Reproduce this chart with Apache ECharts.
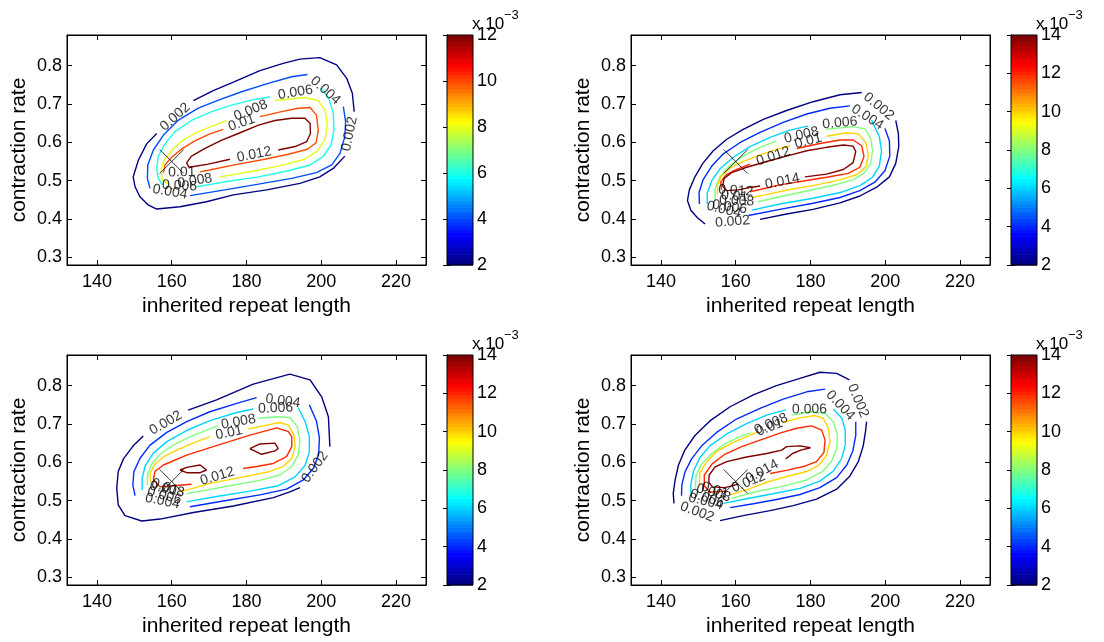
<!DOCTYPE html>
<html>
<head>
<meta charset="utf-8">
<script src="https://cdn.jsdelivr.net/npm/echarts@6/dist/echarts.min.js"></script>
<style>
html,body{margin:0;padding:0;background:#fff;}
#chart{width:1104px;height:642px;}
</style>
</head>
<body>
<div id="chart"></div>
<script>
// ---- axes ----
const xRange = [132, 228];
const yRange = [0.28, 0.88];
const xTicks = [140, 160, 180, 200, 220];
const yTicks = [0.3, 0.4, 0.5, 0.6, 0.7, 0.8];
const cbarMin = 2;
const cbarMax = [12, 14, 14, 14];
const markerPoint = [160, 0.55];

// contour levels per panel
const levels1 = [0.002, 0.004, 0.006, 0.008, 0.01, 0.012];
const levels2 = [0.002, 0.004, 0.006, 0.008, 0.01, 0.012, 0.014];
const levels3 = [0.002, 0.004, 0.006, 0.008, 0.01, 0.012, 0.014];
const levels4 = [0.002, 0.004, 0.006, 0.008, 0.01, 0.012, 0.014];

// ---- panel 1 contours: [repeat length, contraction rate], segments split at label gaps ----
const p1_c002 = [
  [[165.8,0.709],[171.1,0.735],[176.5,0.757],[183.6,0.787],[189.8,0.806],[194.3,0.817],[199.6,0.821],[204.1,0.802],[206.8,0.767],[208.3,0.728],[208.8,0.680]],
  [[206.3,0.564],[203.2,0.532],[199.6,0.510],[194.3,0.493],[185.4,0.476],[176.5,0.463],[169.3,0.445],[162.2,0.432],[156.0,0.426],[153.8,0.436],[151.5,0.458],[150.2,0.484],[149.7,0.510],[151.1,0.554],[153.3,0.596],[156.0,0.623]]
];
const p1_c004 = [
  [[196.3,0.777],[192.1,0.771],[185.8,0.754],[178.7,0.732],[172.5,0.710],[167.1,0.689],[161.8,0.658],[157.8,0.619],[155.1,0.580],[153.6,0.541],[153.5,0.506],[154.2,0.480]],
  [[164.9,0.461],[174.2,0.476],[183.2,0.491],[192.1,0.506],[198.7,0.521],[202.8,0.541],[205.0,0.571],[206.3,0.615],[206.5,0.654],[205.9,0.693]]
];
const p1_c006 = [
  [[186.3,0.719],[181.4,0.710],[176.0,0.697],[170.7,0.680],[165.3,0.657],[160.9,0.628],[158.2,0.596],[156.4,0.563],[156.0,0.532],[156.4,0.506],[157.5,0.489]],
  [[166.7,0.484],[174.2,0.497],[183.2,0.510],[191.2,0.526],[197.0,0.541],[200.5,0.563],[202.6,0.593],[203.4,0.632],[203.2,0.676],[202.0,0.715],[199.9,0.741]]
];
const p1_c008 = [
  [[187.6,0.709],[195.6,0.717],[199.2,0.709],[201.0,0.683],[201.6,0.645],[201.0,0.608],[199.0,0.577],[195.5,0.556],[189.4,0.540],[181.4,0.524],[172.9,0.510]],
  [[159.5,0.489],[157.5,0.502],[157.1,0.528],[158.0,0.554],[160.0,0.580],[163.1,0.606],[167.1,0.628],[171.6,0.645],[174.7,0.657]]
];
const p1_c010 = [
  [[183.6,0.667],[189.4,0.680],[193.8,0.689],[197.0,0.691],[198.7,0.671],[199.2,0.632],[198.6,0.599],[196.3,0.582],[191.2,0.569],[184.9,0.556],[177.8,0.543],[170.7,0.529],[167.6,0.523]],
  [[157.8,0.521],[158.2,0.541],[160.0,0.561],[162.7,0.583],[166.2,0.604],[170.2,0.622],[173.8,0.634]]
];
const p1_c012 = [
  [[188.5,0.580],[193.0,0.589],[196.1,0.602],[197.1,0.623],[197.0,0.650],[195.6,0.663],[192.1,0.663],[187.6,0.657],[183.2,0.645],[177.8,0.623],[173.4,0.606],[168.9,0.584],[165.3,0.564],[164.0,0.547],[164.6,0.535],[169.8,0.543],[175.6,0.556]]
];

// ---- panel 2 contours ----
const p2_c002 = [
  [[193.7,0.730],[187.9,0.724],[180.7,0.706],[173.6,0.683],[167.4,0.660],[162.0,0.634],[157.6,0.608],[154.0,0.578],[151.2,0.545],[149.1,0.510],[147.6,0.476],[147.1,0.448],[148.0,0.423],[149.7,0.404],[151.8,0.387]],
  [[166.5,0.399],[173.6,0.413],[180.7,0.425],[187.9,0.442],[193.2,0.460],[197.7,0.483],[201.1,0.510],[202.8,0.545],[203.6,0.589],[203.5,0.623],[202.8,0.657]]
];
const p2_c004 = [
  [[190.5,0.695],[185.2,0.689],[179.0,0.674],[172.7,0.652],[166.5,0.626],[161.1,0.599],[156.7,0.570],[153.6,0.538],[151.3,0.503],[150.2,0.469],[150.3,0.439]],
  [[163.4,0.409],[171.8,0.425],[180.7,0.441],[187.9,0.456],[193.2,0.474],[197.2,0.496],[199.9,0.526],[201.2,0.564],[201.1,0.604],[199.9,0.636]]
];
const p2_c006 = [
  [[179.4,0.643],[174.5,0.632],[169.2,0.613],[163.8,0.589],[159.4,0.561],[155.8,0.531],[153.6,0.500],[152.4,0.467],[152.4,0.439]],
  [[164.3,0.423],[171.8,0.439],[180.7,0.454],[187.9,0.469],[193.2,0.487],[196.6,0.509],[198.4,0.538],[199.0,0.578],[198.4,0.615],[196.3,0.658]]
];
const p2_c008 = [
  [[184.3,0.634],[191.4,0.641],[194.6,0.635],[196.1,0.610],[196.6,0.578],[196.1,0.545],[194.3,0.519],[191.3,0.502],[186.1,0.488],[179.0,0.473],[171.8,0.458],[166.0,0.445]],
  [[154.5,0.449],[154.5,0.480],[155.8,0.510],[158.3,0.538],[161.9,0.564],[166.3,0.586],[170.9,0.603]]
];
const p2_c010 = [
  [[184.3,0.616],[189.7,0.625],[192.8,0.622],[194.8,0.599],[195.5,0.567],[194.8,0.536],[192.5,0.516],[187.9,0.502],[181.6,0.489],[174.5,0.477],[167.8,0.463],[164.3,0.456]],
  [[155.1,0.463],[155.1,0.489],[156.2,0.513],[158.6,0.534],[162.2,0.551],[166.7,0.568],[171.4,0.583],[174.5,0.591]]
];
const p2_c012 = [
  [[176.3,0.584],[182.5,0.597],[187.9,0.606],[191.4,0.606],[193.7,0.591],[194.3,0.563],[193.2,0.535],[190.1,0.519],[184.3,0.509],[178.1,0.499],[171.8,0.489],[166.5,0.477],[163.8,0.471]],
  [[156.2,0.476],[156.0,0.497],[157.4,0.515],[160.1,0.529],[163.8,0.543]]
];
const p2_c014 = [
  [[178.5,0.510],[184.3,0.517],[188.8,0.529],[191.4,0.547],[192.1,0.576],[191.4,0.590],[188.8,0.593],[184.3,0.587],[179.0,0.578],[173.6,0.564],[168.3,0.550],[162.9,0.535],[158.9,0.521],[156.9,0.506],[156.5,0.486],[157.6,0.474],[160.7,0.476],[164.3,0.483],[166.5,0.486]]
];

// ---- panel 3 contours ----
const p3_c002 = [
  [[164.4,0.736],[172.0,0.763],[181.8,0.804],[191.6,0.830],[197.0,0.815],[200.1,0.771],[201.9,0.719],[202.3,0.641]],
  [[194.3,0.534],[191.6,0.523],[187.2,0.508],[176.5,0.486],[165.8,0.469],[156.9,0.452],[152.0,0.447],[147.5,0.461],[145.7,0.489],[145.3,0.532],[145.7,0.576],[147.1,0.609],[149.7,0.643],[152.4,0.669]]
];
const p3_c004 = [
  [[182.7,0.769],[177.4,0.754],[170.2,0.732],[164.0,0.706],[158.7,0.678],[154.2,0.645],[151.5,0.610],[149.9,0.576],[149.6,0.541],[150.2,0.513]],
  [[164.9,0.484],[173.8,0.499],[183.6,0.515],[190.7,0.530],[195.2,0.554],[198.0,0.586],[199.3,0.621],[199.5,0.664],[198.7,0.708],[196.8,0.750]]
];
const p3_c006 = [
  [[181.8,0.739],[177.4,0.730],[170.2,0.709],[164.0,0.683],[158.7,0.654],[155.1,0.624],[152.9,0.591],[152.1,0.558],[152.1,0.528]],
  [[164.0,0.497],[172.0,0.511],[180.9,0.525],[188.5,0.539],[193.0,0.562],[195.6,0.591],[196.8,0.626],[196.8,0.667],[195.7,0.706],[193.8,0.743]]
];
const p3_c008 = [
  [[183.2,0.715],[188.1,0.719],[191.6,0.717],[193.6,0.693],[194.3,0.656],[193.8,0.619],[192.1,0.589],[188.9,0.567],[183.6,0.553],[175.6,0.539],[166.7,0.523],[164.0,0.518]],
  [[153.5,0.541],[153.5,0.567],[154.6,0.595],[156.9,0.621],[160.4,0.645],[164.7,0.666],[168.9,0.682],[172.5,0.696]]
];
const p3_c010 = [
  [[180.5,0.687],[185.4,0.697],[188.9,0.704],[191.2,0.697],[192.7,0.671],[193.0,0.641],[192.1,0.610],[189.8,0.589],[185.4,0.574],[178.3,0.560],[170.2,0.545],[164.9,0.530],[161.8,0.523]],
  [[154.4,0.548],[154.2,0.571],[155.5,0.595],[158.2,0.617],[162.2,0.636],[166.7,0.654],[170.2,0.667]]
];
const p3_c012 = [
  [[179.1,0.584],[182.7,0.589],[187.2,0.597],[190.7,0.615],[192.1,0.641],[192.1,0.667],[191.2,0.680],[188.1,0.690],[180.9,0.671],[171.1,0.641],[164.0,0.619],[157.8,0.593],[155.5,0.576],[155.1,0.554],[156.9,0.536],[160.4,0.539],[165.3,0.543]]
];
const p3_c014 = [
  [[162.2,0.580],[164.0,0.587],[167.6,0.593],[169.3,0.580],[167.6,0.573],[164.0,0.573],[162.2,0.580]],
  [[180.9,0.636],[183.6,0.648],[187.6,0.650],[188.5,0.636],[187.6,0.630],[184.0,0.621],[180.9,0.636]]
];

// ---- panel 4 contours ----
const p4_c002 = [
  [[190.4,0.815],[187.0,0.832],[182.5,0.835],[177.2,0.819],[170.9,0.800],[164.7,0.776],[158.5,0.745],[153.1,0.708],[149.1,0.670],[146.4,0.632],[144.7,0.593],[143.8,0.554],[143.3,0.519],[143.5,0.493]],
  [[155.8,0.448],[162.0,0.461],[169.2,0.474],[175.4,0.487],[181.6,0.504],[187.0,0.530],[190.5,0.564],[192.8,0.602],[194.1,0.643],[194.7,0.680],[195.0,0.706]]
];
const p4_c004 = [
  [[183.9,0.791],[179.0,0.784],[172.7,0.765],[166.5,0.741],[160.2,0.713],[154.9,0.678],[150.9,0.643],[148.2,0.609],[146.4,0.574],[145.6,0.541],[145.5,0.513]],
  [[158.5,0.482],[164.7,0.492],[170.9,0.503],[177.2,0.516],[182.5,0.534],[187.0,0.560],[189.7,0.593],[191.3,0.629],[192.1,0.670],[192.1,0.706]]
];
const p4_c006 = [
  [[173.4,0.737],[168.3,0.723],[162.9,0.701],[157.6,0.674],[153.1,0.643],[150.4,0.612],[148.7,0.577],[148.0,0.542],[148.0,0.519]],
  [[156.7,0.493],[162.9,0.505],[170.0,0.518],[177.2,0.532],[182.5,0.551],[186.1,0.577],[188.3,0.609],[189.3,0.645],[189.3,0.684],[188.4,0.715],[186.1,0.739]]
];
const p4_c008 = [
  [[174.9,0.723],[179.9,0.732],[183.9,0.728],[186.1,0.706],[187.2,0.671],[187.0,0.635],[185.6,0.602],[183.2,0.576],[179.0,0.554],[172.7,0.538],[165.6,0.524],[158.9,0.506]],
  [[149.2,0.534],[149.4,0.565],[150.9,0.596],[153.6,0.623],[157.1,0.648],[161.1,0.667],[164.0,0.677]]
];
const p4_c010 = [
  [[172.5,0.704],[177.2,0.716],[181.2,0.722],[183.4,0.715],[184.8,0.689],[185.2,0.652],[184.3,0.619],[182.3,0.593],[179.0,0.576],[173.6,0.563],[168.3,0.548],[163.4,0.530],[158.5,0.515]],
  [[150.3,0.539],[150.4,0.571],[152.1,0.600],[154.9,0.628],[158.9,0.650],[162.9,0.667],[165.6,0.678]]
];
const p4_c012 = [
  [[169.2,0.571],[173.6,0.579],[178.1,0.589],[181.6,0.602],[183.6,0.626],[183.9,0.658],[183.0,0.684],[180.3,0.695],[176.3,0.689],[171.8,0.676],[166.5,0.658],[161.6,0.641],[157.1,0.621],[153.7,0.596],[151.6,0.567],[151.6,0.539],[153.1,0.522],[157.6,0.525]]
];
const p4_c014 = [
  [[173.4,0.609],[175.2,0.623],[177.4,0.632],[180.0,0.638],[177.2,0.643],[173.6,0.641],[172.3,0.632],[168.3,0.623],[162.9,0.614],[157.6,0.602],[154.5,0.588],[152.9,0.567],[152.8,0.548],[153.8,0.536],[157.1,0.534],[160.7,0.543]]
];

const panelLevels = [levels1, levels2, levels3, levels4];
const panelContours = [
  [p1_c002, p1_c004, p1_c006, p1_c008, p1_c010, p1_c012],
  [p2_c002, p2_c004, p2_c006, p2_c008, p2_c010, p2_c012, p2_c014],
  [p3_c002, p3_c004, p3_c006, p3_c008, p3_c010, p3_c012, p3_c014],
  [p4_c002, p4_c004, p4_c006, p4_c008, p4_c010, p4_c012, p4_c014]
];

// ---- layout ----
const FONT = '"Liberation Sans", Arial, Helvetica, sans-serif';
const PW = 359, PH = 230;
const boxes = [{ left: 67, top: 35 }, { left: 631, top: 35 }, { left: 67, top: 355 }, { left: 631, top: 355 }];
const CB_OFFSET = 380, CB_W = 26;
const N_COLORS = 64;

// jet colormap, t in [0,1]
function jet(t) {
  const c = v => Math.round(255 * Math.max(0, Math.min(1, v)));
  return 'rgb(' + c(1.5 - Math.abs(4 * t - 3)) + ',' + c(1.5 - Math.abs(4 * t - 2)) + ',' + c(1.5 - Math.abs(4 * t - 1)) + ')';
}

const grids = [], xAxes = [], yAxes = [], series = [], titles = [];
const black = { color: '#000', width: 1 };

boxes.forEach(b => {
  grids.push({ left: b.left, top: b.top, width: PW, height: PH, show: true, borderColor: '#000', borderWidth: 1, backgroundColor: 'transparent', z: 5, outerBoundsMode: 'none' });
});
boxes.forEach(b => {
  grids.push({ left: b.left + CB_OFFSET, top: b.top, width: CB_W, height: PH, show: true, borderColor: '#000', borderWidth: 1, backgroundColor: 'transparent', z: 5, outerBoundsMode: 'none' });
});

// plot axes: bottom/top x, left/right y
boxes.forEach((b, i) => {
  const xBase = { gridIndex: i, type: 'value', min: xRange[0], max: xRange[1], splitLine: { show: false },
    axisLine: { show: true, lineStyle: black }, axisTick: { show: true, inside: true, length: 5, customValues: xTicks, lineStyle: black } };
  xAxes.push(Object.assign({}, xBase, {
    position: 'bottom',
    axisLabel: { show: true, customValues: xTicks, color: '#000', fontSize: 18, fontFamily: FONT, margin: 8 },
    name: 'inherited repeat length', nameLocation: 'middle', nameGap: 31, nameMoveOverlap: false,
    nameTextStyle: { color: '#000', fontSize: 21, fontFamily: FONT }
  }));
  xAxes.push(Object.assign({}, xBase, { position: 'top', axisLabel: { show: false } }));
  const yBase = { gridIndex: i, type: 'value', min: yRange[0], max: yRange[1], splitLine: { show: false },
    axisLine: { show: true, lineStyle: black }, axisTick: { show: true, inside: true, length: 5, customValues: yTicks, lineStyle: black } };
  yAxes.push(Object.assign({}, yBase, {
    position: 'left',
    axisLabel: { show: true, customValues: yTicks, formatter: v => v.toFixed(1), color: '#000', fontSize: 18, fontFamily: FONT, margin: 5 },
    name: 'contraction rate', nameLocation: 'middle', nameGap: 37, nameMoveOverlap: false,
    nameTextStyle: { color: '#000', fontSize: 21, fontFamily: FONT }
  }));
  yAxes.push(Object.assign({}, yBase, { position: 'right', axisLabel: { show: false } }));
});

// colorbar axes
boxes.forEach((b, i) => {
  xAxes.push({ gridIndex: 4 + i, type: 'value', min: 0, max: 1, show: false });
  const cbBase = { gridIndex: 4 + i, type: 'value', min: cbarMin, max: cbarMax[i], interval: 2, splitLine: { show: false },
    axisLine: { show: true, lineStyle: black }, axisTick: { show: true, inside: true, length: 4, lineStyle: black } };
  yAxes.push(Object.assign({}, cbBase, {
    position: 'right',
    axisLabel: { show: true, color: '#000', fontSize: 18, fontFamily: FONT, margin: 4 }
  }));
  yAxes.push(Object.assign({}, cbBase, { position: 'left', axisLabel: { show: false } }));
  // exponent note above each colorbar, starting at its right edge
  const cbRight = b.left + CB_OFFSET + CB_W;
  titles.push({ text: 'x 10', left: cbRight - 1, top: b.top - 19, padding: 0, itemGap: 0,
    textStyle: { fontSize: 17, fontWeight: 'normal', color: '#000', fontFamily: FONT } });
  titles.push({ text: '\u22123', left: cbRight + 31, top: b.top - 26, padding: 0, itemGap: 0,
    textStyle: { fontSize: 13, fontWeight: 'normal', color: '#000', fontFamily: FONT } });
});

// colorbar bands
boxes.forEach((b, i) => {
  const step = (cbarMax[i] - cbarMin) / N_COLORS;
  const bands = [];
  for (let k = 0; k < N_COLORS; k++) bands.push([0.5, cbarMin + k * step, cbarMin + (k + 1) * step]);
  series.push({
    type: 'custom', xAxisIndex: 8 + i, yAxisIndex: 8 + 2 * i, silent: true, animation: false,
    encode: { x: 0, y: [1, 2] },
    data: bands,
    renderItem: (params, api) => {
      const p0 = api.coord([0, api.value(1)]);
      const p1 = api.coord([1, api.value(2)]);
      return { type: 'rect', shape: { x: p0[0], y: p1[1], width: p1[0] - p0[0], height: p0[1] - p1[1] + 0.6 },
        style: { fill: jet(params.dataIndex / (N_COLORS - 1)) } };
    }
  });
});

// contour lines and their labels (each label sits in the gap between two segments of its contour)
const sx = PW / (xRange[1] - xRange[0]);
const sy = PH / (yRange[1] - yRange[0]);
panelContours.forEach((contours, i) => {
  const lv = panelLevels[i];
  const labels = [];
  contours.forEach((segs, j) => {
    const level = lv[j];
    const t = (level * 1000 - cbarMin) / (cbarMax[i] - cbarMin);
    const color = jet(t);
    segs.forEach(seg => {
      series.push({ type: 'line', xAxisIndex: 2 * i, yAxisIndex: 2 * i, data: seg, symbol: 'none', showSymbol: false,
        lineStyle: { color: color, width: 1.4 }, silent: true, animation: false, z: 2 });
    });
    const open = segs.filter(s => !(s[0][0] === s[s.length - 1][0] && s[0][1] === s[s.length - 1][1]));
    open.forEach((s, k) => {
      const a = s[s.length - 1];
      const bp = open[(k + 1) % open.length][0];
      let ang = Math.atan2((bp[1] - a[1]) * sy, (bp[0] - a[0]) * sx) * 180 / Math.PI;
      if (ang > 90) ang -= 180;
      if (ang <= -90) ang += 180;
      labels.push({ value: [(a[0] + bp[0]) / 2, (a[1] + bp[1]) / 2], label: { formatter: String(level), rotate: ang } });
    });
  });
  series.push({ type: 'scatter', xAxisIndex: 2 * i, yAxisIndex: 2 * i, data: labels, symbolSize: 0, silent: true, animation: false, z: 4,
    label: { show: true, position: 'inside', color: '#000', fontSize: 14, fontFamily: FONT } });
  series.push({ type: 'scatter', xAxisIndex: 2 * i, yAxisIndex: 2 * i, data: [markerPoint], silent: true, animation: false, z: 4,
    symbol: 'path://M0,0L10,10M10,0L0,10', symbolSize: 24,
    itemStyle: { color: 'rgba(0,0,0,0)', borderColor: '#000', borderWidth: 1 } });
});

const chart = echarts.init(document.getElementById('chart'), null, { renderer: 'canvas' });
chart.setOption({
  backgroundColor: '#fff',
  animation: false,
  title: titles,
  grid: grids,
  xAxis: xAxes,
  yAxis: yAxes,
  series: series
});
</script>
</body>
</html>
